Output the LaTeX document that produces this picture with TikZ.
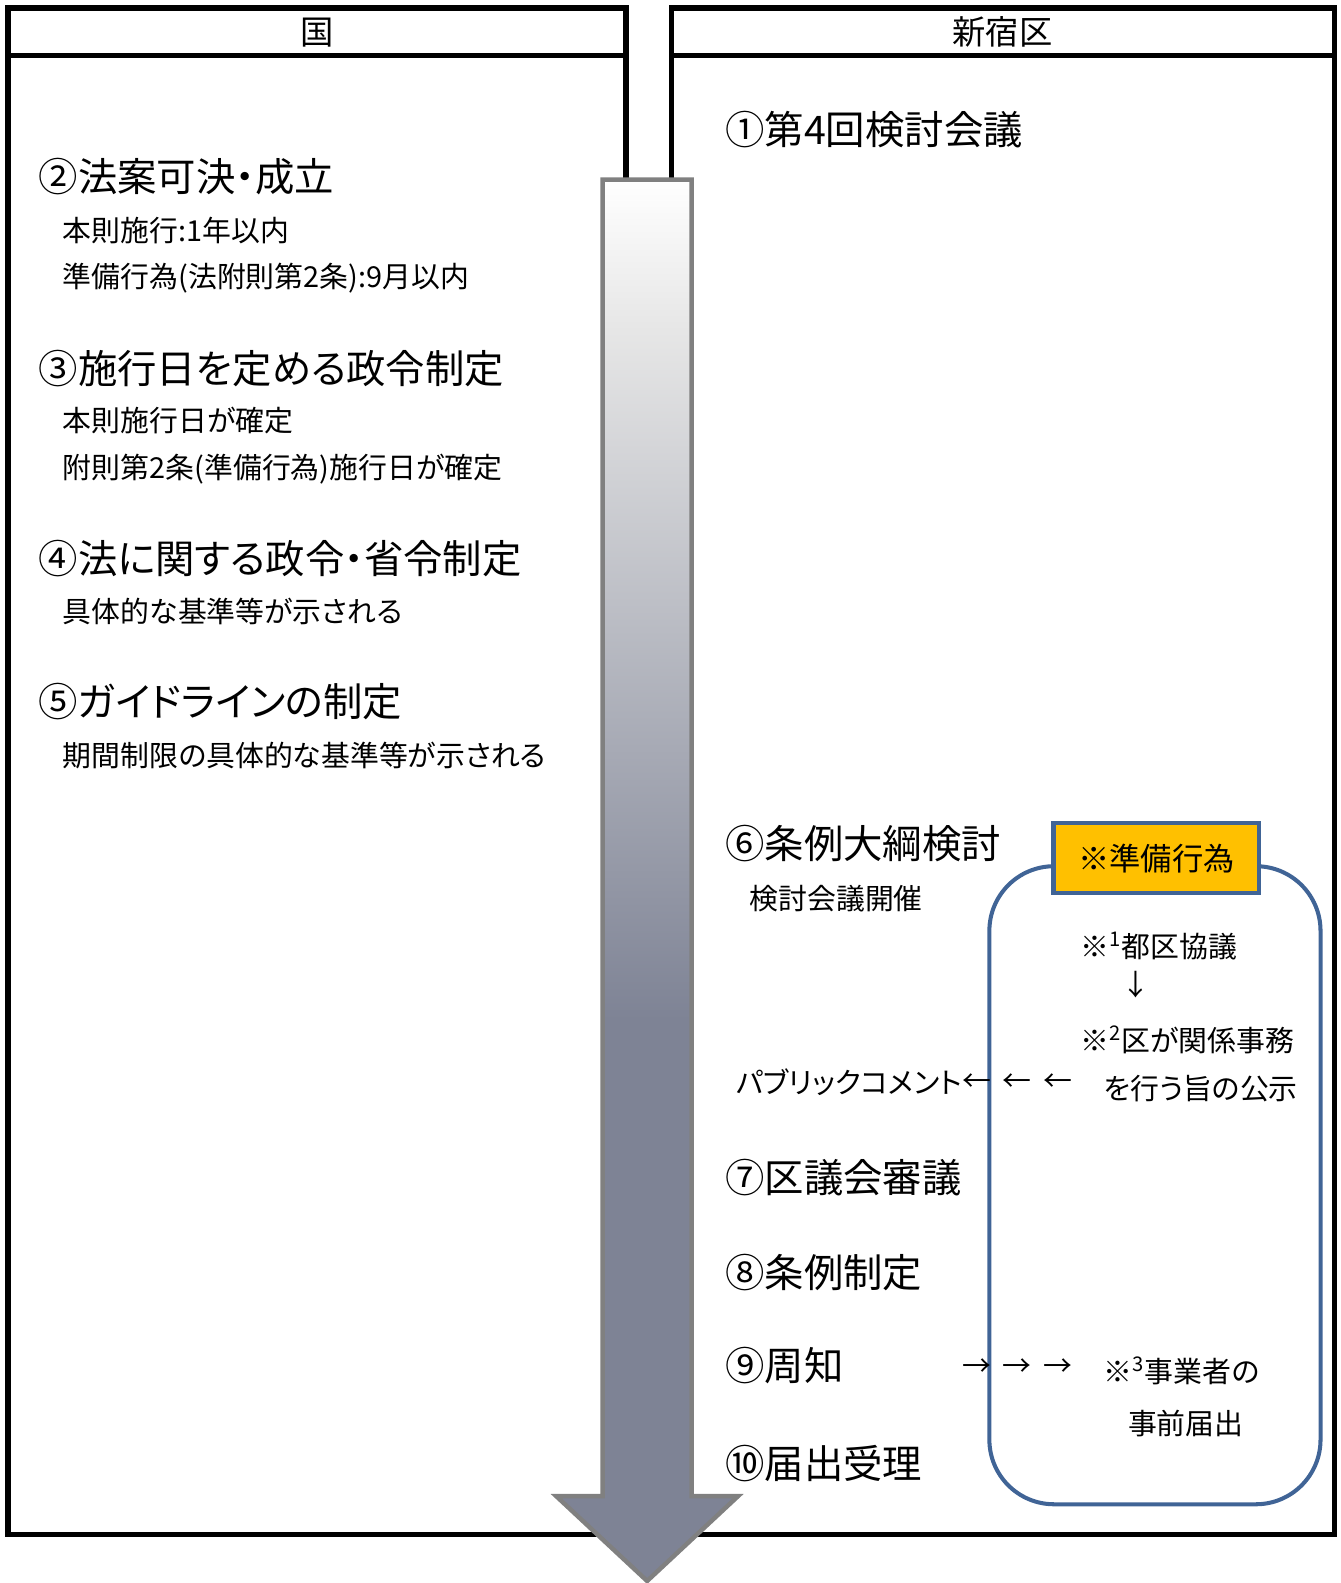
\documentclass[tikz,border=0pt]{standalone}
\usepackage{fontspec}
\setmainfont[RawFeature={+palt}]{Noto Sans CJK JP}
\usepackage{tikz}
\usetikzlibrary{positioning}
\definecolor{slate}{RGB}{126,131,149}
\definecolor{fadegray}{RGB}{230,230,230}
\definecolor{rimgray}{RGB}{128,128,128}
\definecolor{boxblue}{RGB}{64,100,150}
\definecolor{prepyellow}{RGB}{255,192,0}
\pgfdeclareverticalshading{arrowfade}{100bp}{color(0bp)=(slate); color(25bp)=(slate); color(66bp)=(fadegray); color(75bp)=(white); color(100bp)=(white)}
\tikzset{
	panel/.style={draw=black,line width=2.8pt},
	head node/.style={inner sep=0pt,font=\fontsize{16.5}{16.5}\selectfont},
	main node/.style={anchor=west,inner sep=0pt,font=\fontsize{19.5}{19.5}\selectfont},
	sub node/.style={anchor=west,inner sep=0pt,font=\fontsize{14.3}{14.3}\selectfont},
	prep box/.style={draw=boxblue,fill=prepyellow,line width=2pt,minimum width=102pt,minimum height=35pt,
		inner sep=0pt,font=\fontsize{15.5}{15.5}\selectfont},
	prep frame/.style={draw=boxblue,line width=2pt,rounded corners=32pt}
}

\begin{document}
\begin{tikzpicture}[x=0.5pt,y=-0.5pt]
	\useasboundingbox (0,0) rectangle (1328,1568);
	\draw[panel] (8,8) rectangle (620,1520);
	\draw[panel] (8,55) -- (620,55);
	\draw[panel] (665,8) rectangle (1322,1520);
	\draw[panel] (665,55) -- (1322,55);
	\node[head node] (kuni) at (314,32) {国};
	\node[head node] (shinjuku) at (993,32) {新宿区};
	\begin{scope}
		\clip (597,178) -- (685,178) -- (685,1482) -- (731,1482) -- (641,1566) -- (551,1482) -- (597,1482) -- cycle;
		\fill[slate] (540,170) rectangle (740,1570);
		\shade[shading=arrowfade] (540,178) rectangle (740,1010);
	\end{scope}
	\draw[rimgray,line width=2.2pt,line join=miter] (597,178) -- (685,178) -- (685,1482) -- (731,1482) -- (641,1566) -- (551,1482) -- (597,1482) -- cycle;
	\draw[prep frame] (980,858) rectangle (1308,1490);
	\node[prep box] (prep) at (1145.5,850) {※準備行為};
	\node[main node] (s1) at (718,128) {①第4回検討会議};
	\node[main node] (s2) at (38,175) {②法案可決・成立};
	\node[sub node] (s2a) at (62,228) {本則施行:1年以内};
	\node[sub node] (s2b) at (62,275) {準備行為(法附則第2条):9月以内};
	\node[main node] (s3) at (38,365) {③施行日を定める政令制定};
	\node[sub node] (s3a) at (62,417) {本則施行日が確定};
	\node[sub node] (s3b) at (62,465) {附則第2条(準備行為)施行日が確定};
	\node[main node] (s4) at (38,553) {④法に関する政令・省令制定};
	\node[sub node] (s4a) at (62,606) {具体的な基準等が示される};
	\node[main node] (s5) at (38,695) {⑤ガイドラインの制定};
	\node[sub node] (s5a) at (62,748) {期間制限の具体的な基準等が示される};
	\node[main node] (s6) at (718,836) {⑥条例大綱検討};
	\node[sub node] (s6a) at (742,890) {検討会議開催};
	\node[sub node] (kyogi) at (1070,937) {※\textsuperscript{1}都区協議};
	\node[sub node] (down) at (1110,975) {↓};
	\node[sub node] (kokuji1) at (1070,1030) {※\textsuperscript{2}区が関係事務};
	\node[sub node] (kokuji2) at (1093,1078) {を行う旨の公示};
	\node[sub node,anchor=east] (pubcom) at (953,1072) {パブリックコメント};
	\node[sub node] (pubarrow) at (953,1072) {←\hspace{0.4em}←\hspace{0.4em}←};
	\node[main node] (s7) at (718,1166) {⑦区議会審議};
	\node[main node] (s8) at (718,1260) {⑧条例制定};
	\node[main node] (s9) at (718,1353) {⑨周知};
	\node[sub node] (notice) at (953,1355) {→\hspace{0.4em}→\hspace{0.4em}→};
	\node[sub node] (todoke1) at (1093,1358) {※\textsuperscript{3}事業者の};
	\node[sub node] (todoke2) at (1117,1410) {事前届出};
	\node[main node] (s10) at (718,1450) {⑩届出受理};
\end{tikzpicture}
\end{document}
